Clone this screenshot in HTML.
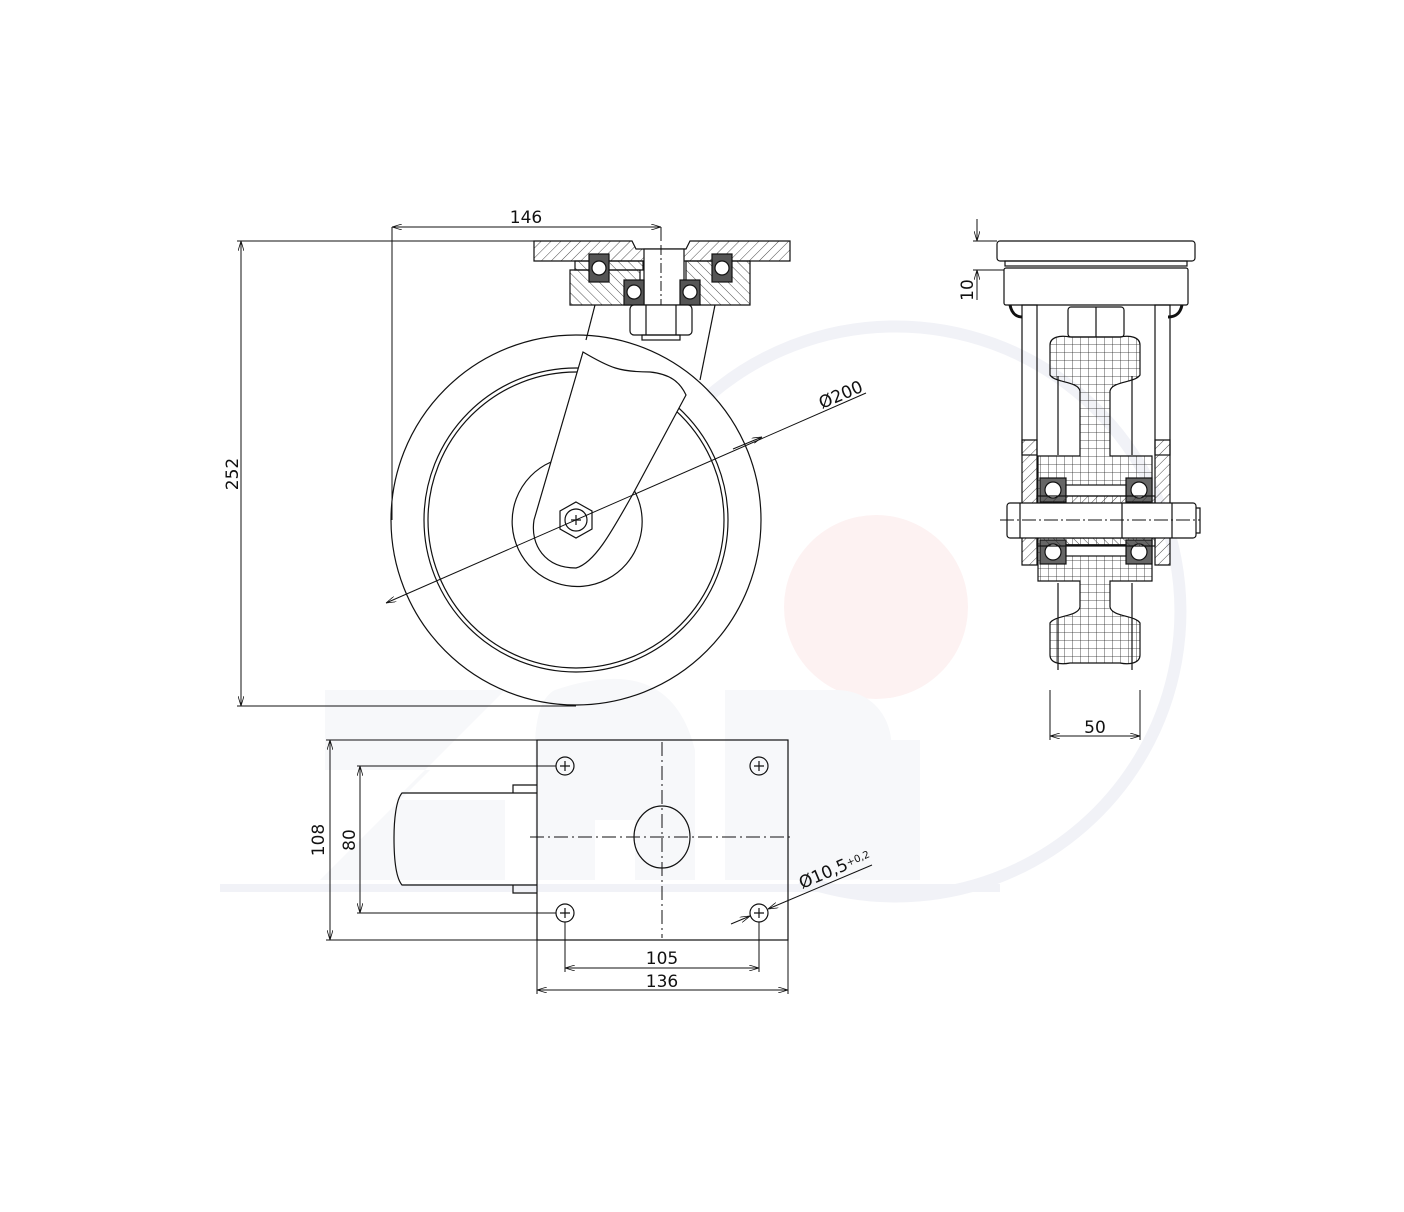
<!DOCTYPE html>
<html><head><meta charset="utf-8"><style>
html,body{margin:0;padding:0;background:#fff}
svg{display:block}
text{font-family:"DejaVu Sans","Liberation Sans",sans-serif;fill:#111}
</style></head><body>
<svg width="1404" height="1212" viewBox="0 0 1404 1212" xmlns="http://www.w3.org/2000/svg">
<defs>
<pattern id="h" width="7" height="7" patternUnits="userSpaceOnUse" patternTransform="rotate(45)"><line x1="0" y1="0" x2="0" y2="7" stroke="#222" stroke-width="0.8"/></pattern>
<pattern id="h2" width="7" height="7" patternUnits="userSpaceOnUse" patternTransform="rotate(-45)"><line x1="0" y1="0" x2="0" y2="7" stroke="#222" stroke-width="0.8"/></pattern>
<pattern id="g" width="8" height="8" patternUnits="userSpaceOnUse"><path d="M0 0H8M0 0V8" stroke="#222" stroke-width="0.8" fill="none"/></pattern>
<marker id="a" markerWidth="10" markerHeight="6" refX="10" refY="3" orient="auto-start-reverse" markerUnits="userSpaceOnUse"><path d="M0 0L10 3L0 6" fill="none" stroke="#111" stroke-width="0.8"/></marker>
</defs>
<!-- watermark -->
<g>
<circle cx="876" cy="607" r="92" fill="#fdf2f2"/>
<path d="M710 395 A 285 285 0 1 1 800 880" fill="none" stroke="#f1f2f7" stroke-width="12"/>
<path d="M220 888 L 1000 888" stroke="#f1f2f7" stroke-width="8"/>
<g fill="#f7f8fa">
<path d="M325 690h180l-110 110h110v80h-185l110-110h-105z"/>
<path d="M555 690c60-20 120-20 140 60v130h-60v-60h-40v60h-60v-130c0-40 10-55 20-60z"/>
<path d="M725 690h110c60 0 70 70 40 90c40 20 30 100-30 100h-120z"/>
<rect x="860" y="740" width="60" height="140"/>
</g>
</g>
<g fill="none" stroke="#111" stroke-width="1.2">
<!-- left view dims -->
<line x1="392" y1="227" x2="661" y2="227" marker-start="url(#a)" marker-end="url(#a)" stroke-width="1"/>
<line x1="392" y1="227" x2="392" y2="520" stroke-width="1"/>
<line x1="661" y1="227" x2="661" y2="241" stroke-width="1"/>
<line x1="237" y1="241" x2="534" y2="241" stroke-width="1"/>
<line x1="237" y1="706" x2="576" y2="706" stroke-width="1"/>
<line x1="241" y1="241" x2="241" y2="706" marker-start="url(#a)" marker-end="url(#a)" stroke-width="1"/>
<!-- top plate -->
<path d="M534 241H632L636 249H686L690 241H790V261H534Z" fill="url(#h)"/>
<rect x="644" y="249" width="40" height="56" fill="#fff"/>
<path d="M570 270H640V305H570Z" fill="url(#h2)"/>
<path d="M686 261H750V305H686Z" fill="url(#h2)"/>
<path d="M575 261H643V270H575Z" fill="url(#h2)"/>
<rect x="589" y="254" width="20" height="28" fill="#555"/><circle cx="599" cy="268" r="7" fill="#fff"/>
<rect x="712" y="254" width="20" height="28" fill="#555"/><circle cx="722" cy="268" r="7" fill="#fff"/>
<rect x="624" y="280" width="20" height="25" fill="#555"/><circle cx="634" cy="292" r="7" fill="#fff"/>
<rect x="680" y="280" width="20" height="25" fill="#555"/><circle cx="690" cy="292" r="7" fill="#fff"/>
<line x1="661" y1="245" x2="661" y2="305" stroke-dasharray="10 3 2 3" stroke-width="1"/>
<rect x="630" y="305" width="62" height="30" rx="4" fill="#fff"/>
<line x1="646" y1="305" x2="646" y2="335"/><line x1="676" y1="305" x2="676" y2="335"/>
<rect x="642" y="335" width="38" height="5"/>
<!-- fork -->
<path d="M595 305L586 340"/><path d="M715 305L700 380"/>
<!-- wheel -->
<circle cx="576" cy="520" r="185"/>
<circle cx="576" cy="520" r="152"/>
<circle cx="576" cy="520" r="148"/>
<path d="M551 462A65 65 0 1 0 634 490"/>
<path d="M583 352C610 368 620 372 650 372C670 374 680 382 686 395L634 492C610 535 594 563 576 568C545 568 530 545 534 520Z" fill="#fff"/>
<polygon points="576,502 592,511 592,529 576,538 560,529 560,511" fill="#fff"/>
<circle cx="576" cy="520" r="11"/>
<path d="M571 520h10M576 515v10"/>
<line x1="386" y1="603" x2="866" y2="393" marker-start="url(#a)" stroke-width="1"/>
<line x1="733" y1="449" x2="762" y2="437" marker-end="url(#a)" stroke-width="1"/>
<!-- right view -->
<line x1="977" y1="219" x2="977" y2="241" marker-end="url(#a)" stroke-width="1"/>
<line x1="977" y1="270" x2="977" y2="300" marker-start="url(#a)" stroke-width="1"/>
<line x1="973" y1="241" x2="997" y2="241" stroke-width="1"/>
<line x1="973" y1="270" x2="1004" y2="270" stroke-width="1"/>
<rect x="997" y="241" width="198" height="20" rx="3" fill="#fff"/>
<rect x="1005" y="261" width="182" height="5"/>
<rect x="1004" y="268" width="184" height="37" rx="2"/>
<path d="M1010 305c2 10 8 12 12 12M1182 305c-2 10-8 12-14 12" stroke-width="3"/>
<rect x="1022" y="305" width="15" height="150"/><rect x="1155" y="305" width="15" height="150"/>
<path d="M1022 440H1037V565H1022Z" fill="url(#h)"/>
<path d="M1155 440H1170V565H1155Z" fill="url(#h)"/>
<rect x="1068" y="307" width="56" height="30" rx="3" fill="#fff"/><line x1="1096" y1="307" x2="1096" y2="337"/>
<path d="M1050 345c0-8 10-10 20-8h50c10-2 20 0 20 8v30c-5 8-28 6-30 16v65h42v125h-42v26c2 10 25 8 30 16v32c0 8-10 10-20 8h-50c-10 2-20 0-20-8v-32c5-8 28-6 30-16v-26h-42v-125h42v-65c-2-10-25-8-30-16z" fill="url(#g)"/>
<line x1="1058" y1="376" x2="1058" y2="455"/><line x1="1132" y1="376" x2="1132" y2="455"/>
<line x1="1058" y1="583" x2="1058" y2="670"/><line x1="1132" y1="583" x2="1132" y2="670"/>
<rect x="1040" y="478" width="26" height="24" fill="#666"/><circle cx="1053" cy="490" r="8" fill="#fff"/>
<rect x="1126" y="478" width="26" height="24" fill="#666"/><circle cx="1139" cy="490" r="8" fill="#fff"/>
<rect x="1040" y="540" width="26" height="24" fill="#666"/><circle cx="1053" cy="552" r="8" fill="#fff"/>
<rect x="1126" y="540" width="26" height="24" fill="#666"/><circle cx="1139" cy="552" r="8" fill="#fff"/>
<rect x="1066" y="485" width="60" height="11" fill="#fff"/><rect x="1066" y="545" width="60" height="11" fill="#fff"/>
<rect x="1037" y="496" width="118" height="8" fill="url(#h)"/>
<rect x="1037" y="538" width="118" height="8" fill="url(#h2)"/>
<rect x="1007" y="503" width="189" height="35" rx="3" fill="#fff"/>
<line x1="1020" y1="503" x2="1020" y2="538"/><line x1="1122" y1="503" x2="1122" y2="538"/>
<line x1="1172" y1="503" x2="1172" y2="538"/>
<path d="M1196 508h4v25h-4"/>
<line x1="1000" y1="520" x2="1200" y2="520" stroke-dasharray="14 3 2 3" stroke-width="1"/>
<line x1="1050" y1="690" x2="1050" y2="740" stroke-width="1"/><line x1="1140" y1="690" x2="1140" y2="740" stroke-width="1"/>
<line x1="1050" y1="736" x2="1140" y2="736" marker-start="url(#a)" marker-end="url(#a)" stroke-width="1"/>
<!-- bottom plan -->
<rect x="537" y="740" width="251" height="200"/>
<line x1="530" y1="837" x2="790" y2="837" stroke-dasharray="14 4 2 4" stroke-width="1"/>
<line x1="662" y1="742" x2="662" y2="938" stroke-dasharray="14 4 2 4" stroke-width="1"/>
<ellipse cx="662" cy="837" rx="28" ry="31"/>
<g><circle cx="565" cy="766" r="9"/><circle cx="759" cy="766" r="9"/><circle cx="565" cy="913" r="9"/><circle cx="759" cy="913" r="9"/></g>
<path d="M560 766h10M565 761v10M754 766h10M759 761v10M560 913h10M565 908v10M754 913h10M759 908v10"/>
<path d="M537 793H402C396 800 394 820 394 838C394 860 396 878 402 885H537"/>
<path d="M537 785H513V793M537 893H513V885"/>
<g stroke-width="1">
<line x1="326" y1="740" x2="537" y2="740"/><line x1="326" y1="940" x2="537" y2="940"/>
<line x1="330" y1="740" x2="330" y2="940" marker-start="url(#a)" marker-end="url(#a)"/>
<line x1="357" y1="766" x2="556" y2="766"/><line x1="357" y1="913" x2="556" y2="913"/>
<line x1="360" y1="766" x2="360" y2="913" marker-start="url(#a)" marker-end="url(#a)"/>
<line x1="565" y1="922" x2="565" y2="972"/><line x1="759" y1="922" x2="759" y2="972"/>
<line x1="565" y1="968" x2="759" y2="968" marker-start="url(#a)" marker-end="url(#a)"/>
<line x1="537" y1="940" x2="537" y2="994"/><line x1="788" y1="940" x2="788" y2="994"/>
<line x1="537" y1="990" x2="788" y2="990" marker-start="url(#a)" marker-end="url(#a)"/>
<line x1="731" y1="924" x2="750" y2="916" marker-end="url(#a)"/>
<line x1="768" y1="909" x2="872" y2="865" marker-start="url(#a)"/>
</g>
</g>
<g font-size="17">
<text x="526" y="223" text-anchor="middle">146</text>
<text transform="translate(238,474) rotate(-90)" text-anchor="middle">252</text>
<text transform="translate(843,400) rotate(-23)" text-anchor="middle">Ø200</text>
<text transform="translate(973,290) rotate(-90)" text-anchor="middle">10</text>
<text x="1095" y="733" text-anchor="middle">50</text>
<text transform="translate(324,840) rotate(-90)" text-anchor="middle">108</text>
<text transform="translate(355,840) rotate(-90)" text-anchor="middle">80</text>
<text x="662" y="964" text-anchor="middle">105</text>
<text x="662" y="987" text-anchor="middle">136</text>
<text transform="translate(802,889) rotate(-23)">Ø10,5<tspan font-size="10" dy="-3">+0,2</tspan></text>
</g>
</svg>
</body></html>
